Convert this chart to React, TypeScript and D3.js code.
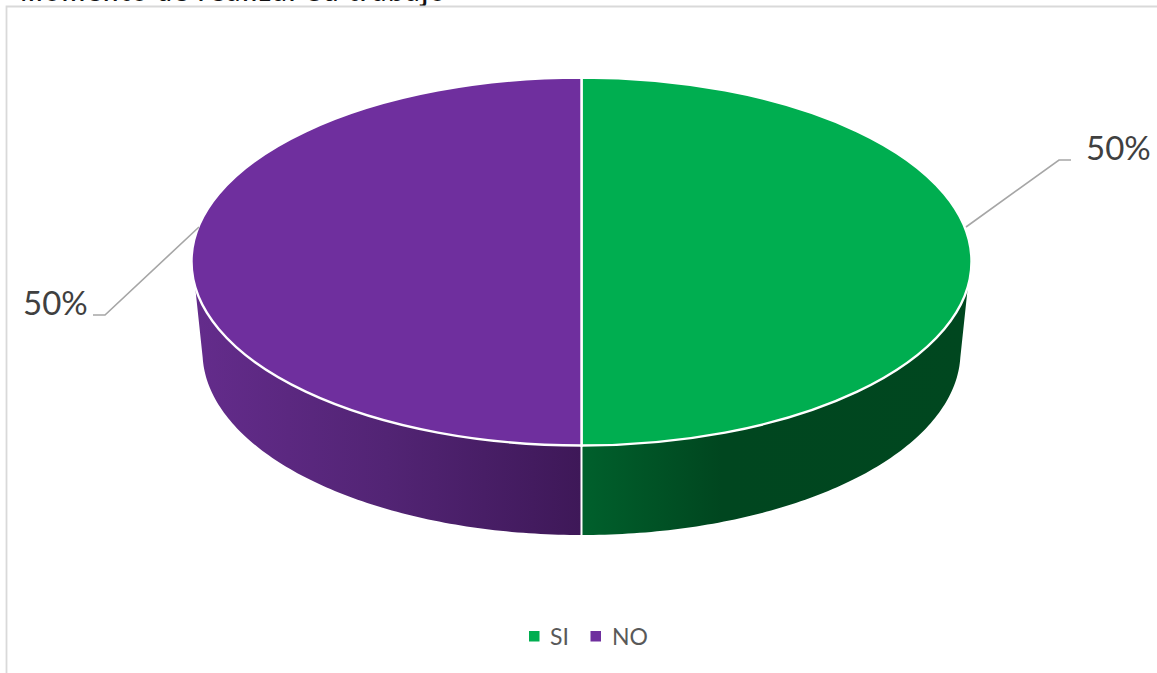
import React from "react";
import * as d3 from "d3";

const categories = ["SI", "NO"];
const values = [50, 50];
const topColors = ["#00AE50", "#6F2F9E"];
const sideStops = [
  [["0", "#00602c"], ["0.36", "#00461f"], ["1", "#00471f"]],
  [["0", "#642c8c"], ["0.5", "#522474"], ["1", "#3e1858"]],
];
const title = "Momento de realizar su trabajo";

const W = 1157, H = 673;
const cx = 581.5, cy = 261.5, rx = 390, ry = 184;
const botCy = 352, botRx = 379, botRy = 183;
const rimCut = 0.137; // radians below horizontal where the side wall begins

const pie = d3.pie<number>().sort(null).startAngle(0).endAngle(2 * Math.PI);
const arcs = pie(values);
const arcGen = d3.arc<any>().innerRadius(0).outerRadius(rx);

const pt = (a: number, r: number, ry0: number, c: number): [number, number] => [
  cx + r * Math.sin(a),
  c - ry0 * Math.cos(a),
];
const line = d3.line<[number, number]>();
const sweep = (a0: number, a1: number, r: number, ry0: number, c: number) =>
  d3.range(0, 101).map((i) => pt(a0 + ((a1 - a0) * i) / 100, r, ry0, c));

function sidePath(start: number, end: number) {
  // visible front wall: clip each slice to the lower half of the rim
  const lo = Math.max(start, Math.PI / 2 + rimCut);
  const hi = Math.min(end, (3 * Math.PI) / 2 - rimCut);
  const botLo = Math.max(start, Math.PI / 2 + 0.03);
  const botHi = Math.min(end, (3 * Math.PI) / 2 - 0.03);
  return line([...sweep(lo, hi, rx, ry, cy), ...sweep(botHi, botLo, botRx, botRy, botCy)]) + "Z";
}

const leaders: [number, number][][] = [
  [[966, 227], [1059, 160], [1071, 160]],
  [[199, 227], [105, 315], [93, 315]],
];
const labelPos = [
  { x: 1086, y: 160 },
  { x: 23, y: 315 },
];
const legendSwatchX = [529, 590.5];
const legendTextX = [550, 612];

export default function App() {
  return (
    <svg
      width={W}
      height={H}
      style={{ position: "absolute", left: 0, top: 0, background: "#fff" }}
      fontFamily="Lato, 'Open Sans', sans-serif"
    >
      <defs>
        {sideStops.map((stops, i) => (
          <linearGradient
            key={i}
            id={`side${i}`}
            gradientUnits="userSpaceOnUse"
            x1={i === 0 ? cx : cx - rx}
            x2={i === 0 ? cx + rx : cx}
            y1={0}
            y2={0}
          >
            {stops.map(([o, c]) => (
              <stop key={o} offset={o} stopColor={c} />
            ))}
          </linearGradient>
        ))}
      </defs>

      <text x={20} y={0.5} fontSize={25} fontWeight={600} fill="#111" fontFamily="'Open Sans', sans-serif" textLength={425}>
        {title}
      </text>

      <path d={`M${W},6.5H6.5V${H}`} fill="none" stroke="#d9d9d9" strokeWidth={1.8} />

      {arcs.map((a, i) => (
        <path key={`s${i}`} d={sidePath(a.startAngle, a.endAngle)} fill={`url(#side${i})`} />
      ))}
      {/* divider on the front wall */}
      <path
        d={line([pt(Math.PI, rx, ry, cy), pt(Math.PI, botRx, botRy, botCy)])!}
        stroke="#fff"
        strokeWidth={2}
        fill="none"
      />

      <g transform={`translate(${cx},${cy}) scale(1,${ry / rx})`}>
        {arcs.map((a, i) => (
          <path
            key={`t${i}`}
            d={arcGen(a)!}
            fill={topColors[i]}
            stroke="#fff"
            strokeWidth={2.4}
            vectorEffect="non-scaling-stroke"
          />
        ))}
      </g>

      {leaders.map((l, i) => (
        <path key={i} d={line(l)!} fill="none" stroke="#a6a6a6" strokeWidth={1.6} />
      ))}
      {arcs.map((a, i) => (
        <text key={i} x={labelPos[i].x} y={labelPos[i].y} fontSize={33} fill="#404040">
          {`${a.value}%`}
        </text>
      ))}

      {categories.map((c, i) => (
        <g key={c}>
          <rect x={legendSwatchX[i]} y={631} width={10.5} height={10.5} fill={topColors[i]} />
          <text x={legendTextX[i]} y={645} fontSize={23} fill="#595959">
            {c}
          </text>
        </g>
      ))}
    </svg>
  );
}
